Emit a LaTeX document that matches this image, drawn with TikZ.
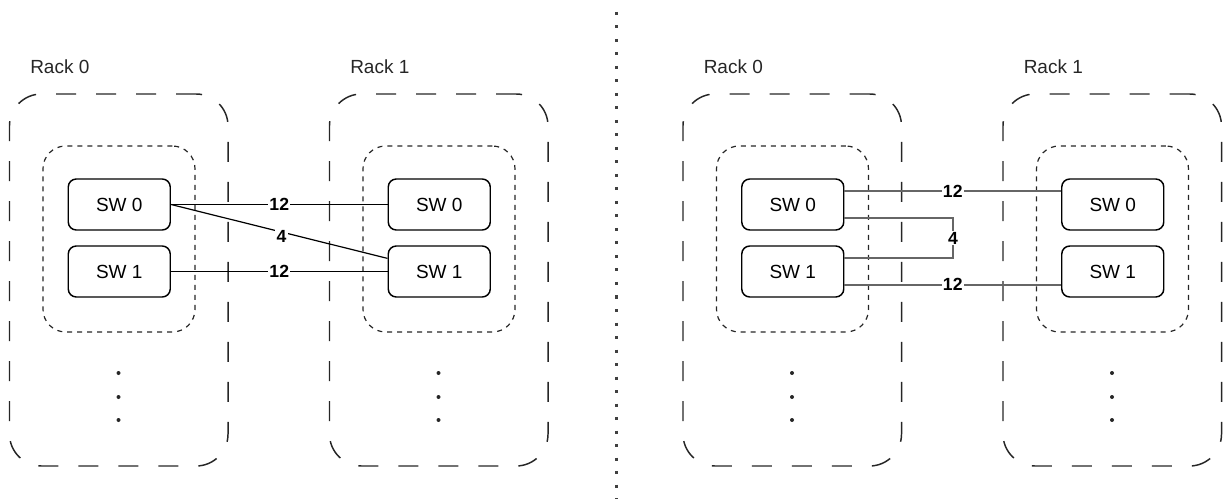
\documentclass[tikz,border=0pt]{standalone}
\usepackage{fontspec}
\setmainfont{Liberation Sans}
\usetikzlibrary{calc}
\begin{document}
\begin{tikzpicture}[x=0.75pt,y=-0.75pt,
  rackbox/.style={draw=black!85, line width=1.1pt, dash pattern=on 15pt off 15pt, rounded corners=24pt, minimum width=163.9pt, minimum height=279pt, inner sep=0},
  grpbox/.style={draw=black!85, line width=0.9pt, dash pattern=on 3.75pt off 3.75pt, rounded corners=17pt, minimum width=114pt, minimum height=139.5pt, inner sep=0},
  swbox/.style={draw=black, line width=1.1pt, rounded corners=6pt, minimum width=76.5pt, minimum height=38.25pt, inner sep=0, font=\fontsize{14.25pt}{17pt}\selectfont},
  racklbl/.style={anchor=base west, inner sep=0, font=\fontsize{14.25pt}{17pt}\selectfont, text=black!85},
  lbl/.style={fill=white, inner sep=1pt, font=\bfseries\fontsize{13.2pt}{15pt}\selectfont},
  blink/.style={draw=black, line width=0.9pt},
  glink/.style={draw=black!60, line width=1.4pt},
  divider/.style={draw=black!75, line width=2.25pt, dash pattern=on 2.25pt off 7.875pt},
  vdot/.style={circle, fill=black!85, inner sep=0, minimum size=3pt}
]
\useasboundingbox (0,0) rectangle (1225,499);

\foreach \off/\n/\r in {0/A/0, 320/B/1, 673.5/C/0, 993.5/D/1}{
  \node[racklbl] (\n-lbl) at (30+\off,74) {Rack \r};
  \node[rackbox] (\n-rack) at (118.75+\off,280) {};
  \node[grpbox] (\n-grp) at (119+\off,239) {};
  \node[swbox] (\n-sw0) at (119.25+\off,204.5) {SW 0};
  \node[swbox] (\n-sw1) at (119.25+\off,271.5) {SW 1};
  \node[vdot] (\n-d1) at (118.5+\off,373) {};
  \node[vdot] (\n-d2) at (118.5+\off,397) {};
  \node[vdot] (\n-d3) at (118.5+\off,420) {};
}

% divider
\coordinate (dtop) at (616,12);
\coordinate (dbot) at (616,500);
\draw[divider] (dtop) -- (dbot);

% left half connections
\coordinate (B1in) at ($(B-sw1.north west)!0.25!(B-sw1.south west)$);
\draw[blink] (A-sw0.east) -- node[lbl] {12} (B-sw0.west);
\draw[blink] (A-sw0.east) -- node[lbl, pos=0.51, yshift=-3pt] {4} (B1in);
\draw[blink] (A-sw1.east) -- node[lbl] {12} (B-sw1.west);

% right half connections
\coordinate (bx) at (953,238);
\coordinate (C0a) at ($(C-sw0.north east)!0.25!(C-sw0.south east)$);
\coordinate (C0b) at ($(C-sw0.north east)!0.75!(C-sw0.south east)$);
\coordinate (C1a) at ($(C-sw1.north east)!0.25!(C-sw1.south east)$);
\coordinate (C1b) at ($(C-sw1.north east)!0.75!(C-sw1.south east)$);
\coordinate (D0a) at ($(D-sw0.north west)!0.25!(D-sw0.south west)$);
\coordinate (D1b) at ($(D-sw1.north west)!0.75!(D-sw1.south west)$);
\draw[glink] (C0a) -- node[lbl] {12} (D0a);
\draw[glink] (C0b) -- (C0b -| bx) -- node[lbl] {4} (C1a -| bx) -- (C1a);
\draw[glink] (C1b) -- node[lbl] {12} (D1b);
\end{tikzpicture}
\end{document}
